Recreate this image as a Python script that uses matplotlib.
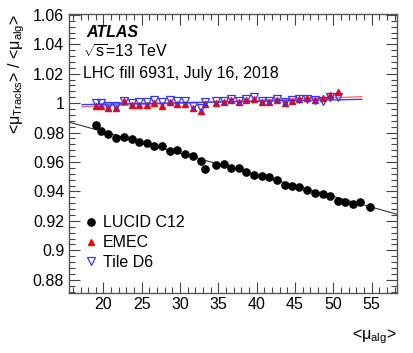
"""
Ratio of track-counting mu to algorithm mu vs <mu_alg> for LHC fill 6931.
"""
import matplotlib
matplotlib.use("Agg")
from matplotlib import pyplot as plt
from matplotlib.ticker import MultipleLocator
import numpy as np

OUTPUT = "out.png"

MU_ALG = [
    19.05, 19.70, 20.65, 21.66, 22.66, 23.70, 24.70, 25.66, 26.61, 27.62,
    28.66, 29.65, 30.70, 31.70, 32.70, 33.26, 34.70, 35.70, 36.70, 37.70,
    38.61, 39.66, 40.66, 41.61, 42.66, 43.66, 44.57, 45.56, 46.61, 47.65,
    48.66, 49.57, 50.57, 51.56, 52.53, 53.48, 54.78,
]
LUCID = [
    0.9850, 0.9809, 0.9787, 0.9766, 0.9773, 0.9754, 0.9739, 0.9727, 0.9709, 0.9707,
    0.9675, 0.9684, 0.9655, 0.9643, 0.9607, 0.9555, 0.9580, 0.9586, 0.9559, 0.9561,
    0.9529, 0.9511, 0.9506, 0.9500, 0.9477, 0.9445, 0.9438, 0.9433, 0.9408, 0.9388,
    0.9384, 0.9370, 0.9338, 0.9331, 0.9313, 0.9326, 0.9297,
]
EMEC = [
    0.9983, 0.9983, 0.9969, 0.9969, 1.0014, 0.9990, 0.9990, 0.9988, 0.9999, 0.9978,
    1.0005, 0.9994, 0.9996, 0.9969, 0.9946, 0.9994, 1.0001, 1.0008, 1.0019, 1.0005,
    1.0021, 1.0031, 1.0010, 1.0005, 1.0024, 1.0003, 1.0014, 1.0026, 1.0035, 1.0024,
    1.0033, 1.0058, 1.0079,
]
TILE = [
    1.0000, 1.0000, 0.9980, 0.9980, 1.0014, 1.0000, 1.0007, 1.0005, 1.0021, 1.0007,
    1.0021, 1.0016, 1.0014, 0.9983, 0.9964, 1.0007, 1.0012, 1.0014, 1.0028, 1.0012,
    1.0031, 1.0042, 1.0016, 1.0012, 1.0031, 1.0010, 1.0024, 1.0028, 1.0028, 1.0024,
    1.0014, 1.0044, 1.0042,
]

# linear fits (intercept, slope) and their x range
LUCID_FIT = (1.0098, -0.001463)
LUCID_FIT_RANGE = (15.5, 58.3)
EMEC_FIT = (0.9944, 0.000186)
TILE_FIT = (0.9973, 0.0000986)
CALO_FIT_RANGE = (17.2, 53.7)

FONT = 11.5

if __name__ == "__main__":
    plt.rcParams.update({
        "font.family": ["Liberation Sans", "DejaVu Sans"],
        "font.size": FONT,
        "mathtext.fontset": "custom",
        "mathtext.rm": "Liberation Sans",
        "mathtext.it": "Liberation Sans:italic",
        "mathtext.bf": "Liberation Sans:bold",
        "mathtext.default": "regular",
    })
    fig = plt.figure(figsize=(4.14, 3.53), dpi=100)
    ax = fig.add_axes([0.1667, 0.170, 0.792, 0.790])

    mu = np.array(MU_ALG)
    x = np.linspace(*LUCID_FIT_RANGE, 2)
    ax.plot(x, LUCID_FIT[0] + LUCID_FIT[1] * x, color="#333333", lw=0.8, zorder=1)
    x = np.linspace(*CALO_FIT_RANGE, 2)
    ax.plot(x, EMEC_FIT[0] + EMEC_FIT[1] * x, color="#ff7070", lw=1.0, zorder=1)
    ax.plot(x, TILE_FIT[0] + TILE_FIT[1] * x, color="#3344ff", lw=1.0, zorder=1)

    ax.plot(mu, LUCID, "o", color="black", ms=5.2, label="LUCID C12", zorder=3)
    ax.plot(mu[:len(EMEC)], EMEC, "^", color="red", ms=4.8, mec="red",
            label="EMEC", zorder=3)
    ax.plot(mu[:len(TILE)], TILE, "v", mfc="none", mec="#3333ff", mew=0.9,
            ms=5.5, label="Tile D6", zorder=4)

    ax.set_xlim(15.5, 58.3)
    ax.set_ylim(0.871, 1.0605)
    ax.xaxis.set_major_locator(MultipleLocator(5))
    ax.xaxis.set_minor_locator(MultipleLocator(1))
    ax.yaxis.set_major_locator(MultipleLocator(0.02))
    ax.yaxis.set_minor_locator(MultipleLocator(0.004))
    ax.set_xticks(np.arange(20, 56, 5))
    ax.set_yticks(np.round(np.arange(0.88, 1.061, 0.02), 2))
    ax.set_yticklabels(["0.88", "0.9", "0.92", "0.94", "0.96", "0.98", "1",
                        "1.02", "1.04", "1.06"])
    ax.tick_params(which="both", direction="in", top=True, right=True,
                   labelsize=FONT, color="#444444")
    ax.tick_params(axis="x", pad=3)
    ax.tick_params(which="major", length=8, width=0.8)
    ax.tick_params(which="minor", length=4, width=0.8)
    for spine in ax.spines.values():
        spine.set_color("#555555")
        spine.set_linewidth(1.0)

    ax.set_ylabel(r"<$\mu_{Tracks}$> / <$\mu_{alg}$>", loc="top", labelpad=4)
    ax.set_xlabel(r"<$\mu_{alg}$>", loc="right", labelpad=11)

    ax.text(0.052, 0.918, "ATLAS", transform=ax.transAxes, fontsize=FONT,
            fontweight="bold", fontstyle="italic")
    ax.text(0.043, 0.842, r"$\sqrt{s}$=13 TeV", transform=ax.transAxes)
    ax.text(0.043, 0.771, "LHC fill 6931, July 16, 2018", transform=ax.transAxes)

    ax.legend(loc="upper left", bbox_to_anchor=(0.045, 0.278), frameon=False,
              fontsize=FONT, handlelength=0.9, handletextpad=0.3,
              labelspacing=0.3, borderpad=0, borderaxespad=0, numpoints=1)

    fig.savefig(OUTPUT, dpi=100)
